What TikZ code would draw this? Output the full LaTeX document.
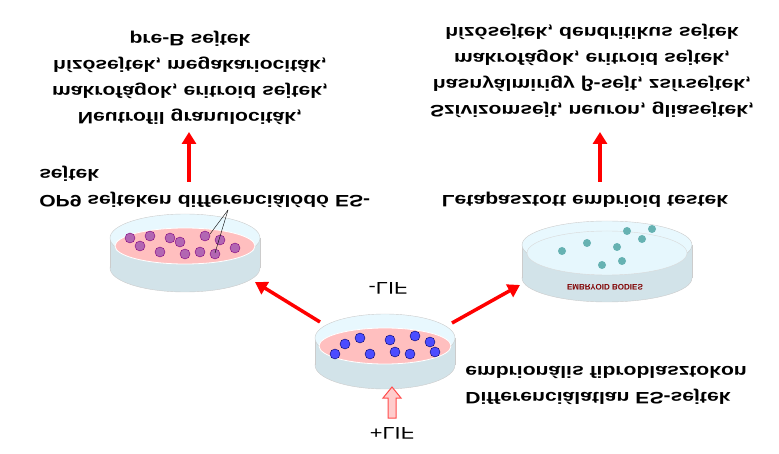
\documentclass[tikz,border=0pt]{standalone}
\usepackage{fontspec}
\setmainfont{Liberation Sans}
\usetikzlibrary{positioning,arrows.meta,calc}
\colorlet{dishblue}{cyan!15}

\begin{document}
\begin{tikzpicture}[x=1pt,y=1pt,
  label/.style={font=\bfseries\fontsize{16.5}{26}\selectfont, align=center, inner sep=0pt, xscale=1.28},
  redarrow/.style={draw=red, line width=3.5pt, -{Triangle[length=12pt,width=14pt]}}]
\begin{scope}[yscale=-1, transform shape]
\useasboundingbox (0,0) rectangle (779,454);

% DISHES
\foreach \name/\cx/\t/\b/\w in {op/185/238/268/75, eb/607/245/278/85, es/385/338/365/70}{
  \fill[dishblue!80!gray!90, draw=gray!40] (\cx,\b) ellipse[x radius=\w, y radius=24];
  \fill[dishblue!80!gray!90] (\cx-\w,\t) rectangle (\cx+\w,\b);
  \draw[gray!40] (\cx-\w,\t) -- (\cx-\w,\b) (\cx+\w,\t) -- (\cx+\w,\b);
  \fill[dishblue!60, draw=gray!40] (\cx,\t) ellipse[x radius=\w, y radius=24];
  \coordinate (\name) at (\cx,\t+8);
}
\fill[red!25, draw=white, thick] (op) ellipse[x radius=70, y radius=18];
\fill[red!25, draw=white, thick] (es) ellipse[x radius=66, y radius=18];
\fill[white!90!cyan, draw=gray!30] (eb) ellipse[x radius=80, y radius=22];
\foreach \dx/\dy in {-45/0, -25/6, -5/-4, 15/6, 35/-6, -55/-8, 30/8, 50/2, -35/-10, 0/8, 20/-10, -15/-8}
  \fill[violet!60, draw=violet] ($(op)+(\dx,\dy)$) circle[radius=5];
\foreach \dx/\dy in {-40/-2, -15/8, 5/-6, 25/8, 45/-4, -50/8, 30/-10, -25/-8, 10/6, 50/6}
  \fill[blue!70, draw=blue!40!black] ($(es)+(\dx,\dy)$) circle[radius=5];
\foreach \dx/\dy in {-45/-2, -20/-10, 10/-6, 35/-14, 15/8, -5/12, 20/-22, 45/-24}
  \fill[teal!60] ($(eb)+(\dx,\dy)$) circle[radius=4];
\node[text=red!50!black, font=\bfseries\fontsize{8}{8}\selectfont] (ebtext) at (605,287) {EMBRYOID BODIES};
\coordinate (pointer) at (228,210);
\draw (pointer) -- (210,234);
\draw (pointer) -- (215,253);

% TEXTS
\node[label] (opout) at (190,78) {Neutrofil granulociták,\\makrofágok, eritroid sejtek,\\hízósejtek, megakariociták,\\pre-B sejtek};
\node[label] (ebout) at (592,71) {Szívizomsejt, neuron, gliasejtek,\\hasnyálmirigy β-sejt, zsírsejtek,\\makrofágok, eritroid sejtek,\\hízósejtek, dendritikus sejtek};
\node[label] (ebname) at (585,200) {Letapasztott embrioid testek};
\node[label, align=left, anchor=west] (opname) at (39,187) {OP9 sejteken differenciálódó ES-\\sejtek};
\node[label, align=left, anchor=west] (esname) at (465,385) {Differenciálatlan ES-sejtek\\embrionális fibroblasztokon};
\node[label, font=\fontsize{17}{17}\selectfont] (minuslif) at (388,288) {-LIF};
\node[label, font=\fontsize{17}{17}\selectfont] (pluslif) at (392,433) {+LIF};

% ARROWS
\coordinate (opup) at (189,182); \coordinate (optop) at (189,132);
\coordinate (ebup) at (600,182); \coordinate (ebtop) at (600,132);
\draw[redarrow] (opup) -- (optop);
\draw[redarrow] (ebup) -- (ebtop);
\draw[redarrow] (320,322) -- (255,282);
\draw[redarrow] (452,323) -- (520,285);
\draw[draw=red!70, fill=red!20, line width=1pt] (388,418) -- (388,398) -- (383,398) -- (392,387) -- (401,398) -- (396,398) -- (396,418) -- cycle;
\end{scope}
\end{tikzpicture}
\end{document}
